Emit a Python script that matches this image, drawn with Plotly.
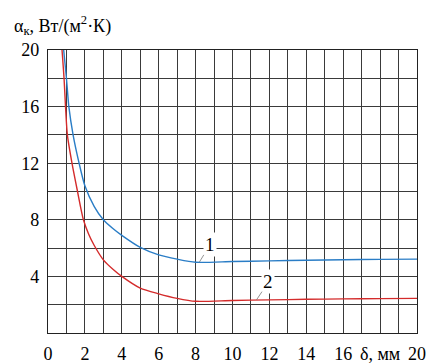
import plotly.graph_objects as go

# Curve 1 (blue)
x1 = [0.85, 1.0, 1.13, 1.36, 1.65, 2.0, 2.5, 3.0, 3.5, 4.0, 5.0, 6.0, 7.0, 8.0, 10.0, 12.0, 14.0, 16.0, 18.0, 20.0]
y1 = [20.0, 18.0, 16.0, 14.0, 12.2, 10.4, 8.95, 8.0, 7.4, 6.9, 6.05, 5.52, 5.22, 5.0, 5.05, 5.1, 5.14, 5.18, 5.2, 5.22]
# Curve 2 (red)
x2 = [0.76, 0.87, 0.95, 1.05, 1.3, 1.6, 1.92, 2.2, 2.5, 3.0, 3.55, 4.0, 5.0, 6.0, 7.0, 8.0, 10.0, 12.0, 14.0, 16.0, 18.0, 20.0]
y2 = [20.0, 18.0, 16.0, 14.0, 12.0, 10.0, 8.0, 7.0, 6.2, 5.17, 4.47, 4.0, 3.17, 2.77, 2.45, 2.24, 2.3, 2.34, 2.38, 2.41, 2.43, 2.45]

x_tickvals = list(range(0, 21))
x_ticktext = ["0", "", "2", "", "4", "", "6", "", "8", "", "10", "", "12", "", "14", "", "16", "", "δ, мм", "", "20"]
y_tickvals = list(range(0, 21, 2))
y_ticktext = ["", "", "4", "", "8", "", "12", "", "16", "", "20"]

y_title = "α<sub>к</sub>, Вт/(м<sup>2</sup>·К)"
label1 = "1"
label2 = "2"

family = "Liberation Serif, Times New Roman, serif"
grid_col = "#3a3a3a"
tfont = dict(family=family, size=18, color="black")

fig = go.Figure()
fig.add_trace(go.Scatter(x=x1, y=y1, mode="lines", line=dict(color="#2a7dc6", width=1.4, shape="spline", smoothing=0.7), showlegend=False))
fig.add_trace(go.Scatter(x=x2, y=y2, mode="lines", line=dict(color="#d42b2b", width=1.4, shape="spline", smoothing=0.7), showlegend=False))

fig.update_layout(
    template="none",
    width=434, height=363,
    margin=dict(l=48, r=17, t=50, b=30, pad=0),
    paper_bgcolor="white", plot_bgcolor="white",
    font=dict(family=family, size=18, color="black"),
    xaxis=dict(range=[0, 20], tickmode="array", tickvals=x_tickvals, ticktext=x_ticktext, showgrid=True,
               gridcolor=grid_col, gridwidth=1, showline=True, linecolor="#222", linewidth=1.2,
               mirror=True, zeroline=False, ticks="", ticklabelstandoff=4,
               tickfont=tfont),
    yaxis=dict(range=[0, 20], tickmode="array", tickvals=y_tickvals, ticktext=y_ticktext, showgrid=True,
               gridcolor=grid_col, gridwidth=1, showline=True, linecolor="#222", linewidth=1.2,
               mirror=True, zeroline=False, ticks="", ticklabelstandoff=4,
               tickfont=tfont),
    annotations=[
        dict(text=y_title, xref="paper", yref="paper", x=0, y=1.0, yshift=25,
             xanchor="left", yanchor="middle", showarrow=False, xshift=-36,
             font=tfont),
        dict(text=label1, x=8.2, y=5.0, xref="x", yref="y", ax=11, ay=-18, showarrow=True,
             arrowhead=0, arrowwidth=0.8, arrowcolor="#777", bgcolor="white",
             font=dict(family=family, size=19)),
        dict(text=label2, x=11.3, y=2.34, xref="x", yref="y", ax=12, ay=-18, showarrow=True,
             arrowhead=0, arrowwidth=0.8, arrowcolor="#777", bgcolor="white",
             font=dict(family=family, size=19)),
    ],
)

fig.write_html("out.html", config={"displayModeBar": False},
               post_script="document.body.style.margin='0';document.body.style.overflow='hidden';")
